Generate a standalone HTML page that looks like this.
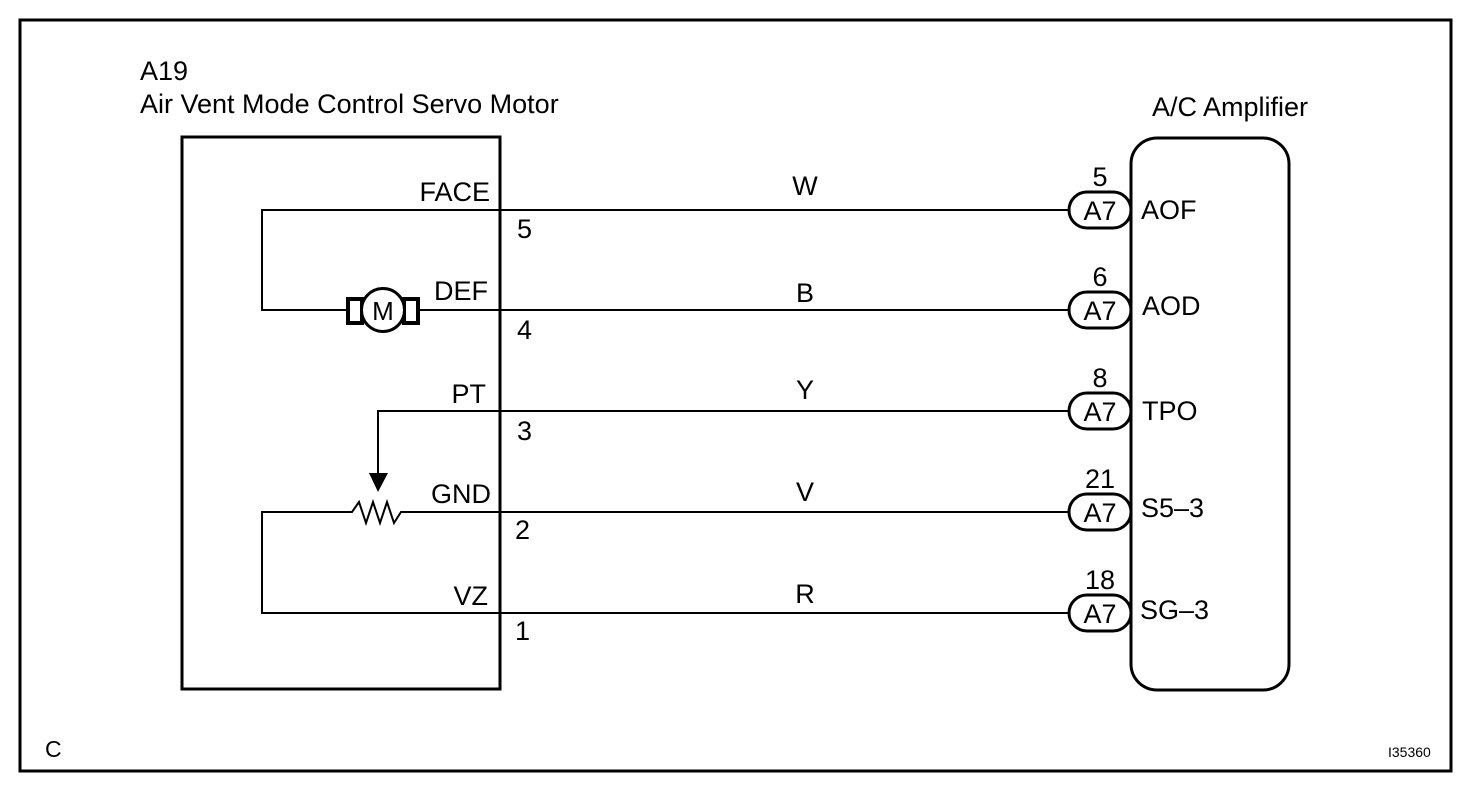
<!DOCTYPE html>
<html><head><style>
body{margin:0;background:#fff}
svg text{font-family:"Liberation Sans",Arial,sans-serif;font-size:27px;fill:#000}
</style></head><body>
<svg width="1472" height="784" viewBox="0 0 1472 784" xmlns="http://www.w3.org/2000/svg">
<rect x="20" y="20" width="1431" height="751" fill="none" stroke="#000" stroke-width="3"/>
<text x="140" y="80">A19</text>
<text x="140" y="113">Air Vent Mode Control Servo Motor</text>
<text x="1152" y="116">A/C Amplifier</text>
<text x="45" y="757" style="font-size:23px">C</text>
<text x="1388" y="757" style="font-size:14px">I35360</text>
<rect x="182" y="137" width="318" height="552" fill="none" stroke="#000" stroke-width="3"/>
<rect x="1131" y="138" width="158" height="552" rx="26" fill="none" stroke="#000" stroke-width="3"/>
<g stroke="#000" stroke-width="2" fill="none">
<line x1="500" y1="210" x2="1068" y2="210"/>
<line x1="500" y1="310" x2="1068" y2="310"/>
<line x1="500" y1="411" x2="1068" y2="411"/>
<line x1="500" y1="512" x2="1068" y2="512"/>
<line x1="500" y1="613" x2="1068" y2="613"/>
<polyline points="500,210 262,210 262,310 347,310"/>
<line x1="418" y1="310" x2="500" y2="310"/>
<polyline points="500,411 378,411 378,475"/>
<polyline points="500,512 401,512 394,523 387,502 380,523 373,502 366,523 359,502 352,512 262,512 262,613 500,613"/>
</g>
<g stroke="#000" stroke-width="4" fill="none">
<rect x="348" y="299" width="14" height="24"/>
<rect x="404" y="299" width="14" height="24"/>
</g>
<circle cx="383" cy="310" r="21.5" fill="#fff" stroke="#000" stroke-width="3"/>
<text x="383" y="320" text-anchor="middle" style="font-size:26px">M</text>
<polygon points="369,473 388,473 378,492" fill="#000"/>
<g stroke="#000" stroke-width="3" fill="#fff">
<rect x="1069" y="192" width="62" height="36" rx="18"/>
<rect x="1069" y="292" width="62" height="36" rx="18"/>
<rect x="1069" y="393" width="62" height="36" rx="18"/>
<rect x="1069" y="494" width="62" height="36" rx="18"/>
<rect x="1069" y="595" width="62" height="36" rx="18"/>
</g>
<g text-anchor="middle">
<text x="1100" y="220">A7</text><text x="1100" y="320">A7</text><text x="1100" y="421">A7</text><text x="1100" y="522">A7</text><text x="1100" y="623">A7</text>
<text x="1100" y="186">5</text><text x="1100" y="286">6</text><text x="1100" y="387">8</text><text x="1100" y="488">21</text><text x="1100" y="589">18</text>
<text x="805" y="195">W</text><text x="805" y="302">B</text><text x="805" y="399">Y</text><text x="805" y="501">V</text><text x="805" y="603">R</text>
</g>
<g text-anchor="end">
<text x="490" y="201">FACE</text><text x="488" y="300">DEF</text><text x="486" y="403">PT</text><text x="491" y="503">GND</text><text x="488" y="605">VZ</text>
</g>
<text x="517" y="238">5</text><text x="517" y="339">4</text><text x="517" y="440">3</text><text x="515" y="539">2</text><text x="515" y="640">1</text>
<text x="1141" y="219">AOF</text><text x="1142" y="315">AOD</text><text x="1142" y="420">TPO</text><text x="1141" y="517">S5–3</text><text x="1140" y="619">SG–3</text>
</svg>
</body></html>
